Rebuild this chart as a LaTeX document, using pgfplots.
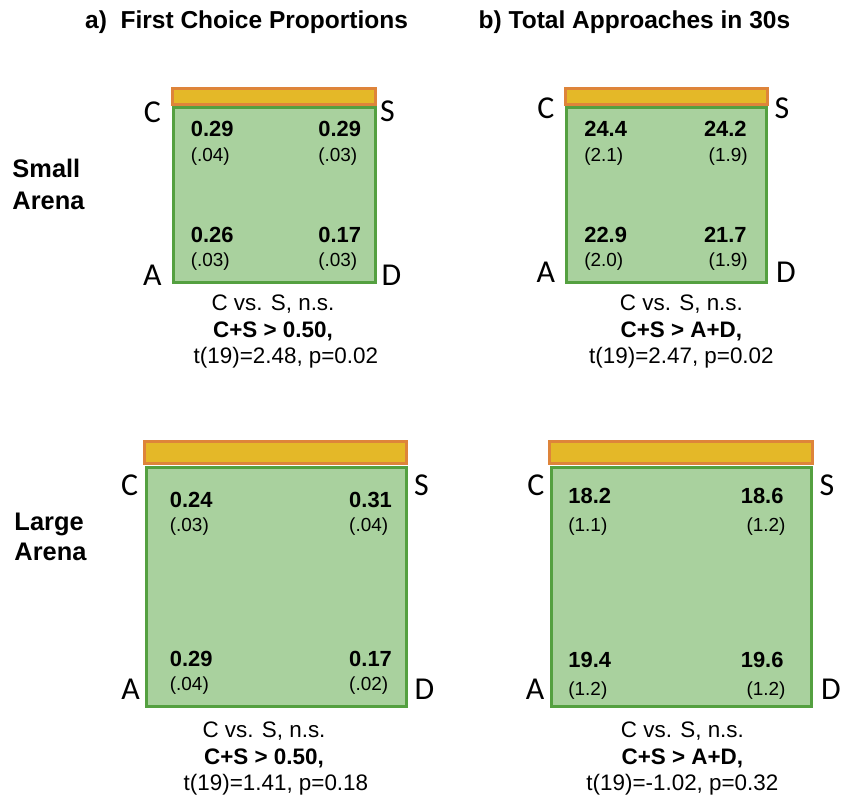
\documentclass[border=0pt]{standalone}
\usepackage{pgfplots}
\pgfplotsset{compat=1.18}
\usepackage{fontspec}
\setmainfont{Liberation Sans}
\newfontfamily\calib{Carlito}
\definecolor{gfill}{RGB}{169,209,158}
\definecolor{gdraw}{RGB}{84,160,64}
\definecolor{ofill}{RGB}{228,184,40}
\definecolor{odraw}{RGB}{222,132,58}
\newcommand{\fs}[1]{\fontsize{#1}{#1}\selectfont}
\begin{document}
\begin{tikzpicture}
\begin{axis}[
  scale only axis, width=844pt, height=801pt,
  xmin=0, xmax=844, ymin=0, ymax=801, y dir=reverse,
  hide axis, clip=false,
  every node/.append style={inner sep=0pt, outer sep=0pt},
]
% background (sets bounding box)
\addplot[fill=white, draw=none] coordinates {(0,0) (844,0) (844,801) (0,801)} -- cycle;
% boxes: small arena
\addplot[fill=ofill, draw=odraw, line width=3pt] coordinates {(173.5,88.5) (376.5,88.5) (376.5,105) (173.5,105)} -- cycle;
\addplot[fill=gfill, draw=gdraw, line width=3pt] coordinates {(174,108) (376.5,108) (376.5,284) (174,284)} -- cycle;
\addplot[fill=ofill, draw=odraw, line width=3pt] coordinates {(567.5,88.5) (770.5,88.5) (770.5,105) (567.5,105)} -- cycle;
\addplot[fill=gfill, draw=gdraw, line width=3pt] coordinates {(568.5,108) (769.5,108) (769.5,284) (568.5,284)} -- cycle;
% boxes: large arena
\addplot[fill=ofill, draw=odraw, line width=3pt] coordinates {(145.5,443.5) (408.5,443.5) (408.5,465.5) (145.5,465.5)} -- cycle;
\addplot[fill=gfill, draw=gdraw, line width=3pt] coordinates {(147.5,469.5) (408.5,469.5) (408.5,709.5) (147.5,709.5)} -- cycle;
\addplot[fill=ofill, draw=odraw, line width=3pt] coordinates {(551.5,443.5) (815.5,443.5) (815.5,465.5) (551.5,465.5)} -- cycle;
\addplot[fill=gfill, draw=gdraw, line width=3pt] coordinates {(553.5,469.5) (814.5,469.5) (814.5,709.5) (553.5,709.5)} -- cycle;

% titles
\node[anchor=base west, font=\bfseries\fs{24.6}] at (axis cs:82,29) {a)\ \ First Choice Proportions};
\node[anchor=base west, font=\bfseries\fs{24.6}] at (axis cs:477,29) {b) Total Approaches in 30s};
\node[anchor=base west, font=\bfseries\fs{25.5}] at (axis cs:9,178) {Small};
\node[anchor=base west, font=\bfseries\fs{25.5}] at (axis cs:9,210) {Arena};
\node[anchor=base west, font=\bfseries\fs{25.5}] at (axis cs:11,532) {Large};
\node[anchor=base west, font=\bfseries\fs{25.5}] at (axis cs:11,563) {Arena};

% corner letters
\begin{scope}[every node/.append style={anchor=base, font=\calib\fs{32}}]
\node at (axis cs:153,123) {C}; \node at (axis cs:389,122) {S};
\node at (axis cs:153,287) {A}; \node at (axis cs:393,287) {D};
\node at (axis cs:548,119) {C}; \node at (axis cs:785,119) {S};
\node at (axis cs:548,284) {A}; \node at (axis cs:789,284) {D};
\node at (axis cs:130,497) {C}; \node at (axis cs:423,497) {S};
\node at (axis cs:131,702) {A}; \node at (axis cs:426,702) {D};
\node at (axis cs:538,497) {C}; \node at (axis cs:830,497) {S};
\node at (axis cs:537,702) {A}; \node at (axis cs:834,702) {D};
\end{scope}

% values: small arena, a
\begin{scope}[every node/.append style={anchor=base west}]
\node[font=\bfseries\fs{22}] at (axis cs:188,137) {0.29};
\node[font=\fs{19}] at (axis cs:188,162) {(.04)};
\node[font=\bfseries\fs{22}] at (axis cs:316,137) {0.29};
\node[font=\fs{19}] at (axis cs:316,162) {(.03)};
\node[font=\bfseries\fs{22}] at (axis cs:188,243) {0.26};
\node[font=\fs{19}] at (axis cs:188,267) {(.03)};
\node[font=\bfseries\fs{22}] at (axis cs:316,243) {0.17};
\node[font=\fs{19}] at (axis cs:316,267) {(.03)};
% small arena, b (left column)
\node[font=\bfseries\fs{22}] at (axis cs:583,137) {24.4};
\node[font=\fs{19}] at (axis cs:583,162) {(2.1)};
\node[font=\bfseries\fs{22}] at (axis cs:583,243) {22.9};
\node[font=\fs{19}] at (axis cs:583,267) {(2.0)};
% large arena, a
\node[font=\bfseries\fs{22}] at (axis cs:167,509) {0.24};
\node[font=\fs{19}] at (axis cs:167,533) {(.03)};
\node[font=\bfseries\fs{22}] at (axis cs:347,509) {0.31};
\node[font=\fs{19}] at (axis cs:347,533) {(.04)};
\node[font=\bfseries\fs{22}] at (axis cs:167,669) {0.29};
\node[font=\fs{19}] at (axis cs:167,693) {(.04)};
\node[font=\bfseries\fs{22}] at (axis cs:347,669) {0.17};
\node[font=\fs{19}] at (axis cs:347,693) {(.02)};
% large arena, b (left column)
\node[font=\bfseries\fs{22}] at (axis cs:567,505) {18.2};
\node[font=\fs{19}] at (axis cs:567,533) {(1.1)};
\node[font=\bfseries\fs{22}] at (axis cs:567,670) {19.4};
\node[font=\fs{19}] at (axis cs:567,698) {(1.2)};
\end{scope}
\begin{scope}[every node/.append style={anchor=base east}]
\node[font=\bfseries\fs{22}] at (axis cs:753,137) {24.2};
\node[font=\fs{19}] at (axis cs:754,162) {(1.9)};
\node[font=\bfseries\fs{22}] at (axis cs:753,243) {21.7};
\node[font=\fs{19}] at (axis cs:754,267) {(1.9)};
\node[font=\bfseries\fs{22}] at (axis cs:790,505) {18.6};
\node[font=\fs{19}] at (axis cs:792,533) {(1.2)};
\node[font=\bfseries\fs{22}] at (axis cs:790,670) {19.6};
\node[font=\fs{19}] at (axis cs:792,698) {(1.2)};
\end{scope}

% statistics text
\begin{scope}[every node/.append style={anchor=base, font=\fs{22.5}}]
\node at (axis cs:274,312) {C vs. S, n.s.};
\node[font=\bfseries\fs{22.5}] at (axis cs:274,339) {C+S > 0.50,};
\node at (axis cs:287,365) {t(19)=2.48, p=0.02};
\node at (axis cs:684,312) {C vs. S, n.s.};
\node[font=\bfseries\fs{22.5}] at (axis cs:684,339) {C+S > A+D,};
\node at (axis cs:684,365) {t(19)=2.47, p=0.02};
\node at (axis cs:265,740) {C vs. S, n.s.};
\node[font=\bfseries\fs{22.5}] at (axis cs:265,767) {C+S > 0.50,};
\node at (axis cs:277,793) {t(19)=1.41, p=0.18};
\node at (axis cs:685,740) {C vs. S, n.s.};
\node[font=\bfseries\fs{22.5}] at (axis cs:685,767) {C+S > A+D,};
\node at (axis cs:685,793) {t(19)=-1.02, p=0.32};
\end{scope}
\end{axis}
\end{tikzpicture}
\end{document}
